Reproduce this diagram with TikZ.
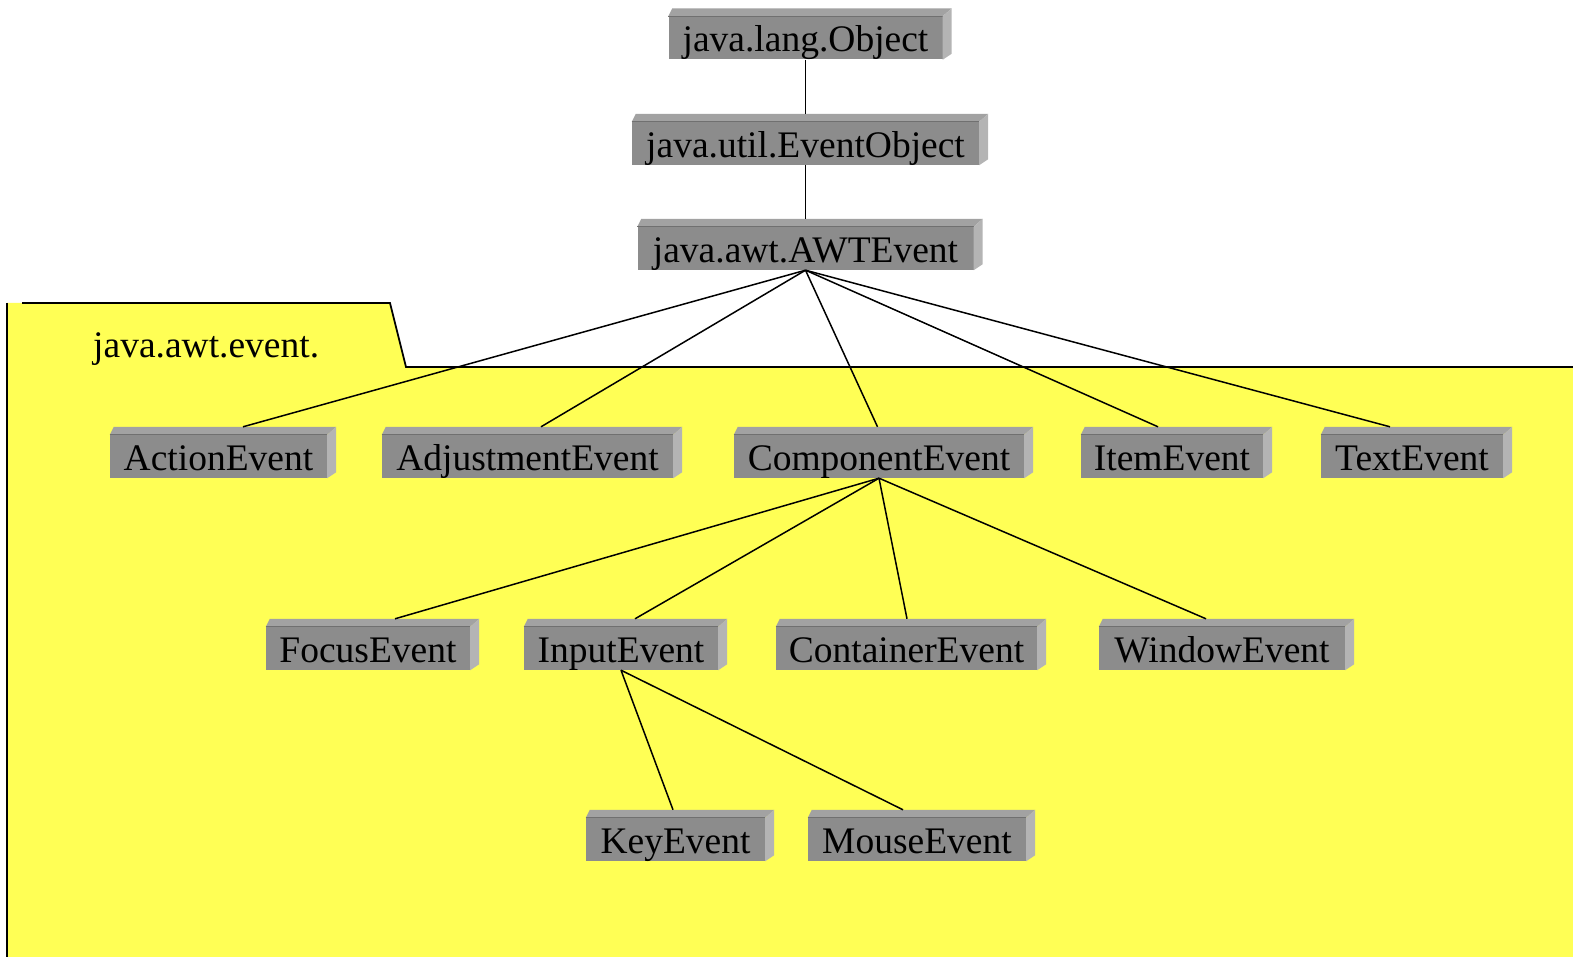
\documentclass[tikz,border=0pt]{standalone}
\usepackage{fontspec}
\setmainfont{Liberation Serif}
\definecolor{pkgyellow}{HTML}{FFFF55}
\definecolor{frontc}{HTML}{8C8C8C}
\definecolor{topc}{HTML}{A2A2A2}
\definecolor{sidec}{HTML}{B4B4B4}
\definecolor{edgec}{HTML}{707070}
\begin{document}
\begin{tikzpicture}[x=1pt,y=-1pt,
  cls/.style={fill=frontc, inner sep=0pt, minimum height=43pt,
    text height=28pt, text depth=0pt, align=center,
    font=\fontsize{37.5}{44}\selectfont},
  link/.style={line width=1.5pt, black},
  pkgline/.style={line width=1.8pt, black}]
\useasboundingbox (0,0) rectangle (1573,957);
% package
\fill[pkgyellow] (7,303) -- (390,303) -- (406,367) -- (1573,367) -- (1573,957) -- (7,957) -- cycle;
\draw[pkgline] (22,303) -- (390,303) -- (406,367) -- (1573,367);
\draw[pkgline] (7,303) -- (7,957);
\node[anchor=base west, inner sep=0pt, font=\fontsize{37.5}{44}\selectfont] (pkg) at (93,357) {java.awt.event.};
% nodes
\node[cls, minimum width=274pt] (obj) at (805.5,38) {java.lang.Object};
\node[cls, minimum width=347pt] (eo) at (805.5,143.5) {java.util.EventObject};
\node[cls, minimum width=336pt] (awt) at (805.5,248.5) {java.awt.AWTEvent};
\node[cls, minimum width=217pt] (ae) at (218.5,456.5) {ActionEvent};
\node[cls, minimum width=291pt] (adj) at (527.5,456.5) {AdjustmentEvent};
\node[cls, minimum width=290pt] (ce) at (879,456.5) {ComponentEvent};
\node[cls, minimum width=182pt] (ie) at (1172,456.5) {ItemEvent};
\node[cls, minimum width=182pt] (te) at (1412,456.5) {TextEvent};
\node[cls, minimum width=204pt] (fe) at (368,648.5) {FocusEvent};
\node[cls, minimum width=194pt] (ine) at (621,648.5) {InputEvent};
\node[cls, minimum width=261pt] (cne) at (906.5,648.5) {ContainerEvent};
\node[cls, minimum width=246pt] (we) at (1222,648.5) {WindowEvent};
\node[cls, minimum width=179pt] (ke) at (675.5,839.5) {KeyEvent};
\node[cls, minimum width=218pt] (me) at (917,839.5) {MouseEvent};
% bevels
\foreach \n in {obj,eo,awt,ae,adj,ce,ie,te,fe,ine,cne,we,ke,me}{
  \fill[topc] (\n.north west) -- ([xshift=4pt,yshift=8pt]\n.north west) -- ([xshift=9pt,yshift=8pt]\n.north east) -- (\n.north east) -- cycle;
  \draw[edgec, line width=0.8pt] (\n.north west) -- (\n.north east);
  \fill[sidec] (\n.north east) -- ([xshift=9pt,yshift=8pt]\n.north east) -- ([xshift=9pt,yshift=6pt]\n.south east) -- (\n.south east) -- cycle;
}
% links
\draw[link] (obj.south) -- ([yshift=8pt]eo.north);
\draw[link] (eo.south) -- ([yshift=8pt]awt.north);
\draw[link] (awt.south) -- ([xshift=24.5pt,yshift=8pt]ae.north);
\draw[link] (awt.south) -- ([xshift=13.5pt,yshift=8pt]adj.north);
\draw[link] (awt.south) -- ([xshift=-1.5pt,yshift=8pt]ce.north);
\draw[link] (awt.south) -- ([xshift=-14pt,yshift=8pt]ie.north);
\draw[link] (awt.south) -- ([xshift=-22pt,yshift=8pt]te.north);
\draw[link] (ce.south) -- ([xshift=27pt,yshift=8pt]fe.north);
\draw[link] (ce.south) -- ([xshift=14pt,yshift=8pt]ine.north);
\draw[link] (ce.south) -- ([xshift=0.5pt,yshift=8pt]cne.north);
\draw[link] (ce.south) -- ([xshift=-16pt,yshift=8pt]we.north);
\draw[link] (ine.south) -- ([xshift=-2.5pt,yshift=8pt]ke.north);
\draw[link] (ine.south) -- ([xshift=-14pt,yshift=8pt]me.north);
\end{tikzpicture}
\end{document}
